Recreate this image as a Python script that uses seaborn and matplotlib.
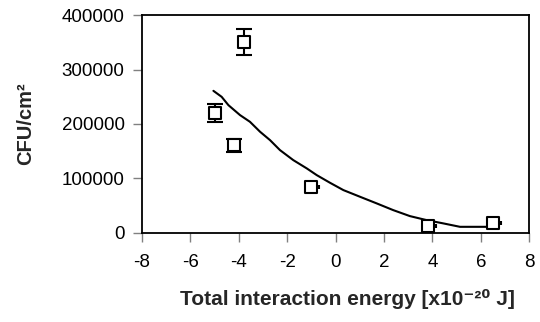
import matplotlib
matplotlib.use("Agg")
import matplotlib.pyplot as plt
import seaborn as sns
import pandas as pd

# measured points
energy = [-5.0, -3.8, -4.2, -1.0, 3.8, 6.5]
cfu = [220000, 350000, 161000, 85000, 12000, 18000]
cfu_err = [17000, 24000, 12000, 0, 0, 0]
energy_err_plus = [0, 0, 0, 0.33, 0.34, 0.32]

# fitted curve
curve_x = [-5.05, -4.71, -4.43, -3.95, -3.54, -3.12, -2.71, -2.30, -1.75, -1.19,
           -0.78, -0.23, 0.32, 1.01, 1.70, 2.38, 3.07, 3.76, 4.45, 5.14, 6.52]
curve_y = [260900, 249900, 234600, 216300, 204000, 185600, 170300, 152000, 133600,
           118300, 106000, 91900, 78500, 66200, 54000, 41700, 30700, 23300, 17300,
           11000, 11000]

x_ticks = [-8, -6, -4, -2, 0, 2, 4, 6, 8]
y_ticks = [0, 100000, 200000, 300000, 400000]

sns.set_theme(style="white")
plt.rcParams['font.family'] = ['Liberation Sans', 'DejaVu Sans']

fig = plt.figure(figsize=(5.4, 3.22), dpi=100)
ax = fig.add_axes([0.263, 0.277, 0.717, 0.676])

pts = pd.DataFrame({"x": energy, "y": cfu})
cur = pd.DataFrame({"x": curve_x, "y": curve_y})

sns.lineplot(data=cur, x="x", y="y", ax=ax, color="black", linewidth=1.5,
             sort=False, estimator=None)

ye = [(x, y, e) for x, y, e in zip(energy, cfu, cfu_err) if e > 0]
ax.errorbar([p[0] for p in ye], [p[1] for p in ye], yerr=[p[2] for p in ye],
            fmt="none", ecolor="black", elinewidth=1.5, capsize=5.5,
            capthick=1.5, zorder=3)
xe = [(x, y, e) for x, y, e in zip(energy, cfu, energy_err_plus) if e > 0]
ax.errorbar([p[0] for p in xe], [p[1] for p in xe],
            xerr=[[0] * len(xe), [p[2] for p in xe]], fmt="none",
            ecolor="black", elinewidth=1.5, capsize=1.5, capthick=1.5, zorder=3)

sns.scatterplot(data=pts, x="x", y="y", ax=ax, marker="s", s=70,
                facecolor="white", edgecolor="black", linewidth=1.5, zorder=4)

ax.set_xlim(-8, 8)
ax.set_ylim(0, 400000)
ax.set_xticks(x_ticks)
ax.set_yticks(y_ticks)
ax.set_xticklabels([str(t) for t in x_ticks])
ax.set_yticklabels([str(t) for t in y_ticks])

for s in ax.spines.values():
    s.set_color("black")
    s.set_linewidth(1.3)
    s.set_visible(True)

ax.tick_params(axis="both", which="major", direction="out", length=6.5, width=1,
               color="#808080", labelsize=13.5, labelcolor="black",
               bottom=True, left=True)
ax.tick_params(axis="x", pad=9)
ax.tick_params(axis="y", pad=6)

ax.set_xlabel("Total interaction energy [x10⁻²⁰ J]", fontsize=15,
              fontweight="bold", labelpad=11)
ax.xaxis.set_label_coords(0.53, -0.26)
ax.set_ylabel("CFU/cm²", fontsize=14.5, fontweight="bold", labelpad=19)

fig.savefig("out.png", dpi=100)
